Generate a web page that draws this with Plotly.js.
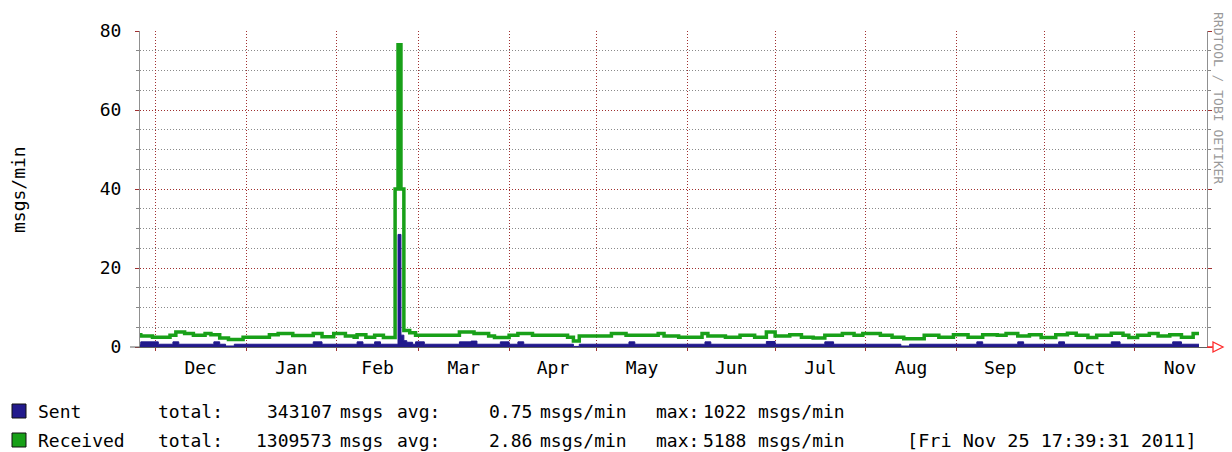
<!DOCTYPE html>
<html>
<head>
<meta charset="utf-8">
<script src="https://cdn.plot.ly/plotly-3.0.1.min.js"></script>
<style>html,body{margin:0;padding:0;background:#fff;}#chart{width:1232px;height:452px;}</style>
</head>
<body>
<div id="chart"></div>
<script>
// ---- data ----
const rangeStart = '2010-11-25 17:39:31';
const rangeEnd   = '2011-11-25 17:39:31';

const recvDates = ['2010-11-25 17:39','2010-11-26','2010-11-30','2010-12-06','2010-12-08','2010-12-11','2010-12-14','2010-12-18','2010-12-20','2010-12-23','2010-12-26','2010-12-31',
  '2011-01-09','2011-01-12','2011-01-17','2011-01-24','2011-01-27','2011-01-31','2011-02-04','2011-02-07','2011-02-08','2011-02-11','2011-02-14','2011-02-17',
  '2011-02-21','2011-02-22','2011-02-23','2011-02-24','2011-02-26','2011-02-28','2011-03-15','2011-03-20','2011-03-25','2011-03-27','2011-04-01','2011-04-04','2011-04-09',
  '2011-04-21','2011-04-23','2011-04-25','2011-05-06','2011-05-11','2011-05-22','2011-05-24','2011-05-29','2011-06-06','2011-06-08','2011-06-14','2011-06-19','2011-06-24','2011-06-28',
  '2011-07-01','2011-07-06','2011-07-10','2011-07-14','2011-07-18','2011-07-24','2011-07-28','2011-07-31','2011-08-06','2011-08-10','2011-08-14','2011-08-21','2011-08-26','2011-08-31',
  '2011-09-05','2011-09-10','2011-09-15','2011-09-18','2011-09-22','2011-09-26','2011-09-30','2011-10-05','2011-10-09','2011-10-12','2011-10-16','2011-10-19','2011-10-24','2011-10-28','2011-10-30',
  '2011-11-02','2011-11-06','2011-11-09','2011-11-13','2011-11-17','2011-11-21','2011-11-23'];
const recvValues = [3.1,2.8,2.5,3.0,3.8,3.4,3.0,3.4,3.1,2.3,1.9,2.5,
  3.1,3.4,2.9,3.4,2.6,3.4,2.8,2.5,3.1,2.5,3.0,2.4,
  40,76.5,40,4.2,3.6,3.0,3.8,3.4,2.8,2.4,2.95,3.4,2.95,
  2.5,1.5,2.8,3.4,2.95,3.4,2.8,2.5,3.4,2.8,2.5,2.95,2.5,3.8,
  2.8,3.1,2.5,2.3,2.95,3.4,2.95,3.4,2.95,2.5,2.1,2.95,2.5,3.1,
  2.5,3.1,2.95,3.4,2.8,3.1,2.4,3.1,3.5,2.95,2.4,2.95,3.5,2.95,2.4,
  2.95,3.4,2.8,3.1,2.5,3.4,3.4];

const sentDates = ['2010-11-25 17:39','2010-11-26','2010-12-02','2010-12-07','2010-12-09','2010-12-21','2010-12-23','2010-12-25','2010-12-28',
  '2011-01-24','2011-01-27','2011-02-08','2011-02-10','2011-02-14','2011-02-16','2011-02-22','2011-02-23','2011-02-24','2011-02-25','2011-02-27',
  '2011-02-28','2011-03-03','2011-03-15','2011-03-19','2011-03-21','2011-03-29','2011-04-01','2011-04-04','2011-04-06','2011-04-23','2011-04-25',
  '2011-05-12','2011-05-14','2011-06-07','2011-06-09','2011-06-28','2011-07-01','2011-07-18','2011-07-21','2011-08-13','2011-08-16',
  '2011-09-08','2011-09-10','2011-09-22','2011-09-24','2011-10-06','2011-10-08','2011-10-24','2011-10-27','2011-11-14','2011-11-17','2011-11-23'];
const sentValues = [0.7,1.3,0.7,1.3,0.7,1.3,0.7,0.25,0.7,
  1.3,0.7,1.3,0.7,1.3,0.7,28.5,3.0,1.6,1.2,0.7,
  1.3,0.7,1.3,1.5,0.7,1.3,0.7,1.3,0.7,0.15,0.7,
  1.3,0.7,1.3,0.7,1.4,0.7,1.3,0.7,0.25,0.7,
  1.3,0.7,1.3,0.7,1.3,0.7,1.3,0.7,1.3,0.7,0.7];

const yTicks = [0,20,40,60,80];
const legendRows = [
  {name:'Sent',     total:'343107',  avg:'0.75', max:'1022', color:'#221a8c'},
  {name:'Received', total:'1309573', avg:'2.86', max:'5188', color:'#18a018'}
];
const stamp = '[Fri Nov 25 17:39:31 2011]';
const yTitle = 'msgs/min';
const sideText = 'RRDTOOL / TOBI OETIKER';

// ---- layout helpers (pixel -> paper for decorations) ----
const W = 1232, H = 452, L = 140, R = 25, T = 31, B = 105;
const PW = W - L - R, PH = H - T - B;
const px = x => (x - L) / PW;
const py = y => (H - B - y) / PH;

const MONO = 'DejaVu Sans Mono';
const RED = '#a03030';

const traces = [
  {x: sentDates, y: sentValues, type:'scatter', mode:'lines', line:{shape:'hv', color:legendRows[0].color, width:1},
   fill:'tozeroy', fillcolor:legendRows[0].color, name:'Sent', hoverinfo:'skip'},
  {x: recvDates, y: recvValues, type:'scatter', mode:'lines', line:{shape:'hv', color:legendRows[1].color, width:3.5},
   name:'Received', hoverinfo:'skip'}
];

const ann = [];
function txt(t, x, y, opts) {
  ann.push(Object.assign({text:t, xref:'paper', yref:'paper', x:px(x), y:py(y), xanchor:'left', yanchor:'middle',
    showarrow:false, font:{family:MONO, size:18, color:'#000'}, borderpad:0}, opts||{}));
}
const rowY = [411, 440];
legendRows.forEach((r, i) => {
  const y = rowY[i];
  txt(r.name, 37, y);
  txt('total:', 157, y);
  txt(r.total, 333, y, {xanchor:'right'});
  txt('msgs', 339, y);
  txt('avg:', 396, y);
  txt(r.avg, 533, y, {xanchor:'right'});
  txt('msgs/min', 539, y);
  txt('max:', 655, y);
  txt(r.max, 702, y);
  txt('msgs/min', 757, y);
});
txt(stamp, 906, rowY[1], {font:{family:MONO, size:18.5, color:'#000'}});
txt(yTitle, 18, 190, {xanchor:'center', textangle:-90});
txt(sideText, 1219, 98, {xanchor:'center', textangle:90, font:{family:MONO, size:13, color:'#999'}});

const shapes = [];
legendRows.forEach((r, i) => {
  shapes.push({type:'rect', xref:'paper', yref:'paper', x0:px(12), x1:px(26), y0:py(rowY[i]+7), y1:py(rowY[i]-7),
    fillcolor:r.color, line:{color:'#111', width:1}});
});
// x axis extension to the left and red arrow on the right
shapes.push({type:'line', xref:'paper', yref:'paper', x0:px(130), x1:px(140), y0:0, y1:0, line:{color:'#606060', width:1}});
shapes.push({type:'path', xref:'paper', yref:'paper', xsizemode:'pixel', ysizemode:'pixel', xanchor:1, yanchor:0,
  path:'M0,0 L6,0 M6,-5 L16,0 L6,5 Z', line:{color:'#ff2a2a', width:1.3}, fillcolor:'rgba(0,0,0,0)'});

const layout = {
  width:W, height:H,
  margin:{l:L, r:R, t:T, b:B, pad:0},
  paper_bgcolor:'#fff', plot_bgcolor:'#fff',
  showlegend:false,
  font:{family:MONO, size:18, color:'#000'},
  xaxis:{type:'date', range:[rangeStart, rangeEnd], dtick:'M1', tick0:'2010-12-01', tickformat:'%b', ticklabelmode:'period',
    showgrid:true, gridcolor:RED, griddash:'1px,2px', gridwidth:1,
    ticks:'outside', ticklen:3, tickcolor:RED, showline:true, linecolor:'#606060', linewidth:1, zeroline:false,
    tickfont:{family:MONO, size:18, color:'#000'}, ticklabelstandoff:1, fixedrange:true},
  yaxis:{range:[0,80], tickvals:yTicks, ticktext:yTicks.map(String),
    showgrid:true, gridcolor:RED, griddash:'1px,2px', gridwidth:1,
    ticks:'outside', ticklen:4, tickcolor:RED, showline:true, linecolor:'#909090', mirror:'ticks', zeroline:false,
    tickfont:{family:MONO, size:18, color:'#000'}, ticklabelstandoff:10, fixedrange:true,
    minor:{dtick:5, tick0:0, showgrid:true, gridcolor:'#8a8a8a', griddash:'1px,2px', gridwidth:1, ticks:'outside', ticklen:3, tickcolor:'#888'}},
  annotations: ann,
  shapes: shapes
};

Plotly.newPlot('chart', traces, layout, {displayModeBar:false, staticPlot:true});
</script>
</body>
</html>
